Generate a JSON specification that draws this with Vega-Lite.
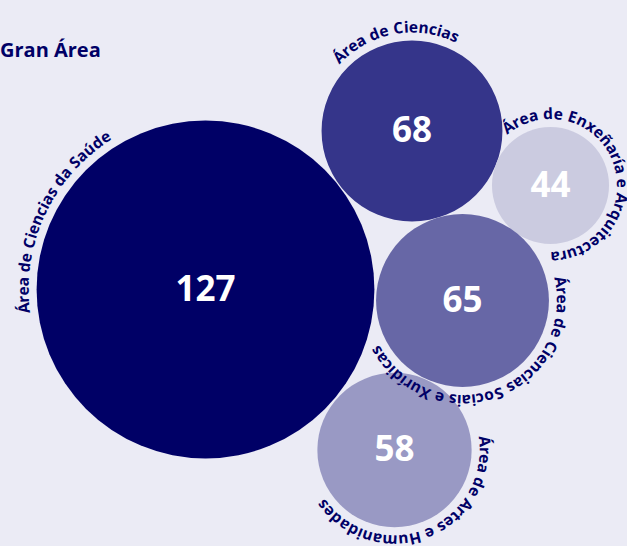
{
  "$schema": "https://vega.github.io/schema/vega-lite/v6.json",
  "width": 627,
  "height": 546,
  "padding": 0,
  "autosize": {"type": "none"},
  "background": "#ebebf5",
  "config": {"view": {"stroke": null}, "font": "Open Sans"},
  "title": {
    "text": "Gran Área",
    "anchor": "start",
    "frame": "group",
    "orient": "top",
    "offset": 0,
    "baseline": "alphabetic",
    "dy": 77,
    "fontSize": 20,
    "fontWeight": "bold",
    "color": "#000066",
    "font": "Open Sans"
  },
  "data": {
    "values": [
      {"area": "Área de Ciencias da Saúde", "value": 127, "x": 205.5, "y": 289.5, "start": -97.5},
      {"area": "Área de Ciencias", "value": 68, "x": 412, "y": 131, "start": -47.5},
      {"area": "Área de Enxeñaría e Arquitectura", "value": 44, "x": 550.5, "y": 185.5, "start": -40.5},
      {"area": "Área de Ciencias Sociais e Xurídicas", "value": 65, "x": 462.5, "y": 300.5, "start": 76},
      {"area": "Área de Artes e Humanidades", "value": 58, "x": 394.5, "y": 450, "start": 81}
    ]
  },
  "layer": [
    {
      "mark": {"type": "point", "shape": "circle", "filled": true, "opacity": 1, "strokeWidth": 0},
      "encoding": {
        "x": {"field": "x", "type": "quantitative", "scale": {"domain": [0, 627]}, "axis": null},
        "y": {"field": "y", "type": "quantitative", "scale": {"domain": [546, 0]}, "axis": null},
        "size": {"field": "value", "type": "quantitative", "scale": {"type": "pow", "exponent": 2, "domain": [0, 127], "range": [0, 114122]}, "legend": null},
        "color": {
          "field": "area",
          "type": "nominal",
          "scale": {
            "domain": ["Área de Ciencias da Saúde", "Área de Ciencias", "Área de Enxeñaría e Arquitectura", "Área de Ciencias Sociais e Xurídicas", "Área de Artes e Humanidades"],
            "range": ["#000066", "#35358a", "#cbcbe0", "#6767a6", "#9999c4"]
          },
          "legend": null
        }
      }
    },
    {
      "mark": {"type": "text", "color": "white", "fontSize": 35, "fontWeight": "bold", "align": "center", "baseline": "middle", "dy": 0},
      "encoding": {
        "x": {"field": "x", "type": "quantitative", "scale": {"domain": [0, 627]}, "axis": null},
        "y": {"field": "y", "type": "quantitative", "scale": {"domain": [546, 0]}, "axis": null},
        "text": {"field": "value", "type": "quantitative"}
      }
    },
    {
      "transform": [
        {"calculate": "split(datum.area, '')", "as": "chars"},
        {"flatten": ["chars"], "as": ["ch"]},
        {"window": [{"op": "row_number", "as": "idx"}], "groupby": ["area"]},
        {"calculate": "16.4 * (indexof('iljíì', datum.ch) >= 0 ? 0.28 : datum.ch == ' ' ? 0.26 : indexof('rtf', datum.ch) >= 0 ? 0.40 : indexof('scz', datum.ch) >= 0 ? 0.48 : indexof('aegkvxy', datum.ch) >= 0 ? 0.56 : indexof('bdhnopquñú', datum.ch) >= 0 ? 0.62 : datum.ch == 'm' ? 0.94 : datum.ch == 'w' ? 0.82 : indexof('ES', datum.ch) >= 0 ? 0.55 : datum.ch == 'H' ? 0.72 : 0.64)", "as": "w"},
        {"window": [{"op": "sum", "field": "w", "as": "cum"}], "groupby": ["area"], "sort": [{"field": "idx", "order": "ascending"}], "frame": [null, 0]},
        {"calculate": "datum.value * 1.33 + 8", "as": "R"},
        {"calculate": "datum.start * PI / 180 + (datum.cum - datum.w / 2) / datum.R", "as": "theta"},
        {"calculate": "datum.x + datum.R * sin(datum.theta)", "as": "px"},
        {"calculate": "datum.y - datum.R * cos(datum.theta)", "as": "py"},
        {"calculate": "datum.theta * 180 / PI", "as": "deg"}
      ],
      "mark": {"type": "text", "color": "#000066", "fontSize": 15.5, "fontWeight": "bold", "align": "center", "baseline": "alphabetic"},
      "encoding": {
        "x": {"field": "px", "type": "quantitative", "scale": {"domain": [0, 627]}, "axis": null},
        "y": {"field": "py", "type": "quantitative", "scale": {"domain": [546, 0]}, "axis": null},
        "text": {"field": "ch", "type": "nominal"},
        "angle": {"field": "deg", "type": "quantitative", "scale": null}
      }
    }
  ]
}
